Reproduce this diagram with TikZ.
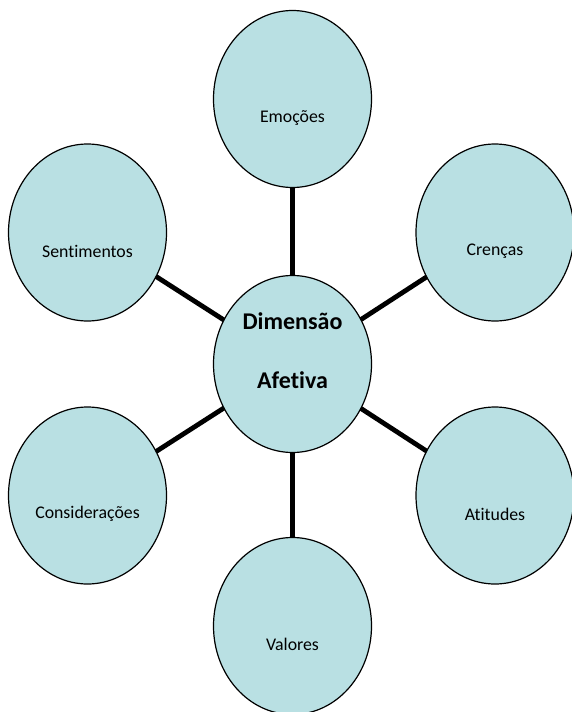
\documentclass[tikz,border=0pt]{standalone}
\usepackage{fontspec}
\setmainfont{Carlito}[Ligatures=CommonOff]
\usetikzlibrary{shapes.geometric}
\definecolor{azulclaro}{HTML}{B9E0E3}
\begin{document}
\begin{tikzpicture}[x=1pt,y=-1pt,
        bolha/.style={ellipse,draw,line width=1.2pt,fill=azulclaro,minimum width=158pt,minimum height=177pt,inner sep=0pt,outer sep=0pt},
        rotulo/.style={anchor=base,yshift=-18.8pt,font=\fontsize{17.8}{20}\selectfont},
        ligacao/.style={line width=4.8pt}]
            \useasboundingbox (0,0) rectangle (572,712);
            \node[bolha,label={[align=center,yshift=13pt,font=\bfseries\fontsize{24}{59}\selectfont]center:Dimensão\\Afetiva}] (dim) at (292.5,364) {};
            \node[bolha,label={[rotulo]center:Emoções}] (emo) at (292.5,99) {};
            \node[bolha,label={[rotulo]center:Sentimentos}] (sent) at (87.5,232.5) {};
            \node[bolha,label={[rotulo]center:Crenças}] (cren) at (495,232.5) {};
            \node[bolha,label={[rotulo]center:Considerações}] (cons) at (87.5,495.5) {};
            \node[bolha,label={[rotulo]center:Atitudes}] (ati) at (495,495.5) {};
            \node[bolha,label={[rotulo]center:Valores}] (val) at (292.5,626) {};
            \draw[ligacao] (dim) -- (emo);
            \draw[ligacao] (dim) -- (sent);
            \draw[ligacao] (dim) -- (cren);
            \draw[ligacao] (dim) -- (cons);
            \draw[ligacao] (dim) -- (ati);
            \draw[ligacao] (dim) -- (val);
        \end{tikzpicture}
\end{document}
